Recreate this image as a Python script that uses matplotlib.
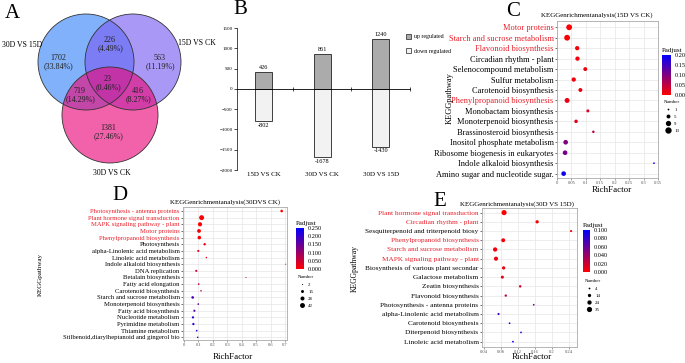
import numpy as np
import matplotlib.pyplot as plt
from matplotlib.patches import Circle, Patch
from matplotlib.colors import LinearSegmentedColormap

plt.rcParams['font.family'] = ['Liberation Serif', 'DejaVu Serif']

# ---- data ----
venn_sets = ['30D VS 15D', '15D VS CK', '30D VS CK']
venn_counts = [1702, 226, 563, 23, 719, 416, 1381]

deg_groups = ['15D VS CK', '30D VS CK', '30D VS 15D']
deg_up = [426, 861, 1240]
deg_down = [-802, -1678, -1430]

c_terms = ['Motor proteins', 'Starch and sucrose metabolism', 'Flavonoid biosynthesis',
           'Circadian rhythm - plant', 'Selenocompound metabolism', 'Sulfur metabolism',
           'Carotenoid biosynthesis', 'Phenylpropanoid biosynthesis', 'Monobactam biosynthesis',
           'Monoterpenoid biosynthesis', 'Brassinosteroid biosynthesis',
           'Inositol phosphate metabolism', 'Ribosome biogenesis in eukaryotes',
           'Indole alkaloid biosynthesis', 'Amino sugar and nucleotide sugar.']
c_rich = [0.042, 0.035, 0.070, 0.071, 0.098, 0.058, 0.081, 0.035, 0.107, 0.066, 0.126,
          0.030, 0.028, 0.336, 0.023]
c_padj = [0.003, 0.004, 0.008, 0.010, 0.012, 0.012, 0.014, 0.015, 0.025, 0.025, 0.05,
          0.10, 0.11, 0.18, 0.19]
c_num = [11, 11, 6, 6, 5, 6, 5, 8, 3, 4, 2, 7, 7, 1, 7]
c_red = ['Motor proteins', 'Starch and sucrose metabolism', 'Flavonoid biosynthesis',
         'Phenylpropanoid biosynthesis']

d_terms = ['Photosynthesis - antenna proteins', 'Plant hormone signal transduction',
           'MAPK signaling pathway - plant', 'Motor proteins', 'Phenylpropanoid biosynthesis',
           'Photosynthesis', 'alpha-Linolenic acid metabolism', 'Linoleic acid metabolism',
           'Indole alkaloid biosynthesis', 'DNA replication', 'Betalain biosynthesis',
           'Fatty acid elongation', 'Carotenoid biosynthesis', 'Starch and sucrose metabolism',
           'Monoterpenoid biosynthesis', 'Fatty acid biosynthesis', 'Nucleotide metabolism',
           'Pyrimidine metabolism', 'Thiamine metabolism',
           'Stilbenoid,diarylheptanoid and gingerol bio']
d_rich = [0.677, 0.122, 0.111, 0.104, 0.106, 0.143, 0.099, 0.155, 0.705, 0.085, 0.430,
          0.102, 0.118, 0.060, 0.099, 0.072, 0.062, 0.065, 0.088, 0.095]
d_padj = [0.0, 0.0, 0.001, 0.002, 0.003, 0.01, 0.02, 0.03, 0.035, 0.05, 0.06, 0.06, 0.07,
          0.18, 0.15, 0.17, 0.20, 0.20, 0.22, 0.24]
d_num = [12, 42, 30, 25, 22, 10, 8, 4, 2, 8, 2, 5, 4, 12, 5, 8, 9, 9, 5, 4]
d_red = ['Photosynthesis - antenna proteins', 'Plant hormone signal transduction',
         'MAPK signaling pathway - plant', 'Motor proteins', 'Phenylpropanoid biosynthesis']

e_terms = ['Plant hormone signal transduction', 'Circadian rhythm - plant',
           'Sesquiterpenoid and triterpenoid biosy', 'Phenylpropanoid biosynthesis',
           'Starch and sucrose metabolism', 'MAPK signaling pathway - plant',
           'Biosynthesis of various plant secondar', 'Galactose metabolism',
           'Zeatin biosynthesis', 'Flavonoid biosynthesis', 'Photosynthesis - antenna proteins',
           'alpha-Linolenic acid metabolism', 'Carotenoid biosynthesis',
           'Diterpenoid biosynthesis', 'Linoleic acid metabolism']
e_rich = [0.087, 0.165, 0.245, 0.085, 0.066, 0.068, 0.086, 0.083, 0.125, 0.091, 0.157,
          0.074, 0.100, 0.127, 0.108]
e_padj = [0.0, 0.002, 0.004, 0.004, 0.005, 0.006, 0.008, 0.010, 0.015, 0.025, 0.05,
          0.07, 0.08, 0.085, 0.095]
e_num = [34, 14, 6, 20, 24, 22, 14, 12, 8, 7, 4, 6, 4, 4, 4]
e_red = ['Plant hormone signal transduction', 'Circadian rhythm - plant',
         'Phenylpropanoid biosynthesis', 'Starch and sucrose metabolism',
         'MAPK signaling pathway - plant']

# ---- layout helpers ----
W, H = 685, 363
fig = plt.figure(figsize=(W / 100, H / 100), dpi=100)


def box(l, t, r, b):
    return [l / W, 1 - b / H, (r - l) / W, (b - t) / H]


def ftext(x, y, s, **kw):
    fig.text(x / W, 1 - y / H, s, **kw)


# ---- A: venn ----
ax = fig.add_axes(box(0, 0, 240, 185))
ax.set_xlim(0, 240)
ax.set_ylim(185, 0)
ax.axis('off')
centres = [(86, 62), (133, 62), (110, 115)]
for (cx, cy), col in zip(centres, ['#3a86f8', '#7a5ef2', '#ea0a7c']):
    ax.add_patch(Circle((cx, cy), 48, fc=col, alpha=0.64, ec='none'))
for (cx, cy) in centres:
    ax.add_patch(Circle((cx, cy), 48, fc='none', ec='#333333', lw=0.6))
total = sum(venn_counts)
pos = [(58, 62), (110, 44), (160, 62), (108, 83), (80, 95), (138, 95), (108, 132)]
for (x, y), n in zip(pos, venn_counts):
    ax.text(x, y, f'{n}\n({n / total * 100:.2f}%)', ha='center', va='center',
            fontsize=5.8, linespacing=1.15, color='#222222')
ax.text(22, 45, venn_sets[0], ha='center', va='center', fontsize=5.6)
ax.text(197, 43, venn_sets[1], ha='center', va='center', fontsize=5.6)
ax.text(112, 173, venn_sets[2], ha='center', va='center', fontsize=5.6)
ftext(12, 14, 'A', fontsize=15, ha='center', va='center')

# ---- B: up/down bars ----
ax = fig.add_axes(box(237, 28, 410, 170))
xs = np.arange(len(deg_groups))
ax.bar(xs, deg_up, width=0.29, color='#ababab', edgecolor='#222222', lw=0.6)
ax.bar(xs, deg_down, width=0.29, color='#f2f2f2', edgecolor='#222222', lw=0.6)
for x, u, d in zip(xs, deg_up, deg_down):
    ax.text(x, u + 40, str(u), ha='center', va='bottom', fontsize=4.5)
    ax.text(x, d - 40, str(d), ha='center', va='top', fontsize=4.5)
    ax.text(x, -2050, deg_groups[x], ha='center', va='top', fontsize=5)
ax.set_xlim(-0.45, 2.5)
ax.set_ylim(-2000, 1500)
ax.set_yticks(np.arange(-2000, 1501, 500))
ax.tick_params(axis='y', labelsize=3.6, length=2, width=0.5, pad=1)
ax.spines['bottom'].set_position(('data', 0))
ax.spines['top'].set_visible(False)
ax.spines['right'].set_visible(False)
ax.spines['left'].set_linewidth(0.5)
ax.spines['bottom'].set_linewidth(0.6)
ax.set_xticks([0.5, 1.5, 2.5])
ax.set_xticklabels([])
ax.tick_params(axis='x', direction='inout', length=2.5, width=0.5)
ax.patch.set_alpha(0)
fig.legend(handles=[Patch(fc='#ababab', ec='#222222', lw=0.5, label='up regulated'),
                    Patch(fc='#f2f2f2', ec='#222222', lw=0.5, label='down regulated')],
           loc='upper left', bbox_to_anchor=(403 / W, 1 - 31 / H), frameon=False,
           fontsize=4.2, handlelength=0.9, handleheight=0.9, handletextpad=0.4, labelspacing=1.5,
           borderpad=0)
ftext(240, 10, 'B', fontsize=15, ha='center', va='center')

# ---- C, D, E: KEGG dot plots ----
cmap = LinearSegmentedColormap.from_list('rb', ['#ff0000', '#0000ff'])


def dotplot(rect, terms, rich, padj, num, red, vmax, k, xlim, xticks, ypad, fs,
            cbar_rect, cticks, cfmt, legend_xy, legend_nums, title, title_xy):
    ax = fig.add_axes(box(*rect))
    ys = np.arange(len(terms))
    sc = ax.scatter(rich, ys, s=[k * n for n in num], c=padj, cmap=cmap, vmin=0, vmax=vmax,
                    zorder=3, linewidths=0)
    ax.set_xlim(*xlim)
    ax.set_ylim(len(terms) - 1 + ypad[1], -ypad[0])
    ax.set_yticks(ys)
    ax.set_yticklabels(terms, fontsize=fs)
    for lab in ax.get_yticklabels():
        if lab.get_text() in red:
            lab.set_color('#e8202a')
    ax.set_xticks(xticks)
    ax.set_xticklabels([f'{t:g}' for t in xticks])
    ax.tick_params(axis='x', labelsize=3.3, length=1.5, width=0.4, pad=1, colors='#555555')
    ax.tick_params(axis='y', length=1.5, width=0.4, pad=1)
    ax.grid(True, color='#e6e6e6', lw=0.5, zorder=0)
    for sp in ax.spines.values():
        sp.set_color('#aaaaaa')
        sp.set_linewidth(0.6)
    ftext(*title_xy, title, fontsize=5, ha='center', va='center')
    cax = fig.add_axes(box(*cbar_rect))
    cb = fig.colorbar(sc, cax=cax, ticks=cticks)
    cb.outline.set_visible(False)
    cax.set_yticklabels([cfmt % t for t in cticks])
    cax.tick_params(labelsize=4.5, length=1.5, width=0.4, pad=1, color='white')
    cax.set_title('Padjust', fontsize=5, loc='left', pad=2)
    handles = [plt.scatter([], [], s=k * n, c='black', linewidths=0) for n in legend_nums]
    fig.legend(handles, [str(n) for n in legend_nums], title='Number', title_fontsize=3.5,
               fontsize=3.5, loc='upper left', bbox_to_anchor=(legend_xy[0] / W, 1 - legend_xy[1] / H),
               frameon=False, handletextpad=0.2, labelspacing=0.55, borderpad=0,
               alignment='left')


dotplot((557, 21, 658, 178), c_terms, c_rich, c_padj, c_num, c_red, 0.2, 1.6,
        (0, 0.35), np.arange(0, 0.351, 0.05), (0.6, 0.42), 6,
        (662, 55, 671, 95), [0, 0.05, 0.1, 0.15, 0.2], '%.2f', (661, 98), [1, 5, 9, 13],
        'KEGGenrichmentanalysis(15D VS CK)', (597, 15))
ftext(612, 190, 'RichFactor', fontsize=6.5, ha='center', va='center')
ftext(450, 98, 'KEGGpathway', fontsize=6, rotation=90, ha='center', va='center')
ftext(513, 12, 'C', fontsize=15, ha='center', va='center')

dotplot((183, 207, 287, 340), d_terms, d_rich, d_padj, d_num, d_red, 0.25, 0.3,
        (-0.007, 0.714), np.arange(0, 0.71, 0.1), (0.6, 0.4), 4.8,
        (296, 228, 304, 269), [0, 0.05, 0.1, 0.15, 0.2, 0.25], '%.3f', (295, 273),
        [2, 15, 28, 42], 'KEGGenrichmentanalysis(30DVS CK)', (225, 202))
ftext(233, 357, 'RichFactor', fontsize=6.5, ha='center', va='center')
ftext(40, 275, 'KEGGpathway', fontsize=5, rotation=90, ha='center', va='center')
ftext(120, 195, 'D', fontsize=15, ha='center', va='center')

dotplot((482, 208, 577, 347), e_terms, e_rich, e_padj, e_num, e_red, 0.1, 0.4,
        (0.035, 0.259), np.arange(0.04, 0.241, 0.04), (0.5, 0.58), 5.2,
        (583, 230, 590, 272), [0, 0.02, 0.04, 0.06, 0.08, 0.1], '%.3f', (582, 277),
        [4, 14, 24, 35], 'KEGGenrichmentanalysis(30D VS 15D)', (517, 204))
ftext(532, 357, 'RichFactor', fontsize=6.5, ha='center', va='center')
ftext(355, 268, 'KEGGpathway', fontsize=5.5, rotation=90, ha='center', va='center')
ftext(440, 202, 'E', fontsize=15, ha='center', va='center')

fig.savefig('out.png', dpi=100)
